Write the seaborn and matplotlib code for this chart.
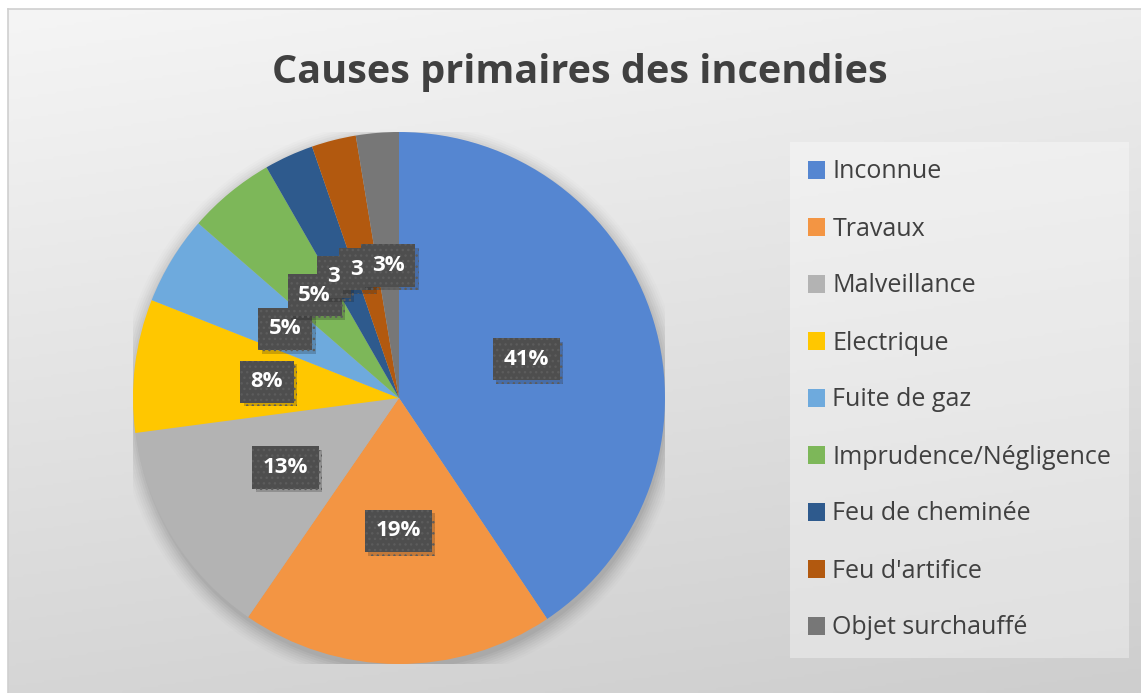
import numpy as np
import seaborn as sns
import matplotlib.pyplot as plt
import matplotlib.patheffects as pe
from matplotlib.patches import Patch, Circle

# Données (en %)
causes = ["Inconnue", "Travaux", "Malveillance", "Electrique", "Fuite de gaz",
          "Imprudence/Négligence", "Feu de cheminée", "Feu d'artifice", "Objet surchauffé"]
parts = [40.6, 19.0, 13.3, 8.1, 5.4, 5.3, 3.0, 2.7, 2.6]
# étiquettes telles qu'affichées (deux sont tronquées par le recouvrement)
etiquettes = ["41%", "19%", "13%", "8%", "5%", "5%", "3", "3", "3%"]
couleurs = ["#5586D1", "#F39543", "#B3B3B3", "#FFC700", "#6EAADD",
            "#7DB759", "#2E5A8D", "#B2590F", "#777777"]

sns.set_theme(style="white")
plt.rcParams['font.family'] = ['Open Sans', 'DejaVu Sans']
plt.rcParams['hatch.linewidth'] = 1.0

fig = plt.figure(figsize=(11.41, 6.93), dpi=100)

# Fond dégradé
bg = fig.add_axes([8/1141, 0, 1 - 8/1141, (693 - 9)/693])
grad = np.linspace(0, 1, 256)[:, None] * 0.8 + np.linspace(0, 1, 256)[None, :] * 0.2
bg.imshow(grad, cmap=sns.blend_palette(["#F5F5F5", "#CECECE"], as_cmap=True),
          aspect='auto', extent=[0, 1, 1, 0])
bg.set_xticks([])
bg.set_yticks([])
for s in ['right', 'bottom']:
    bg.spines[s].set_visible(False)
for s in ['left', 'top']:
    bg.spines[s].set_color('#CFCFCF')
    bg.spines[s].set_linewidth(1.2)

# Camembert
ax = fig.add_axes([(399 - 266)/1141, (693 - 664)/693, 532/1141, 532/693])
for r, a in zip(np.linspace(1.06, 1.0, 8), np.linspace(0.01, 0.04, 8)):
    ax.add_patch(Circle((0.005, -0.02), r, color='black', alpha=a, lw=0))
wedges, txt, autotexts = ax.pie(parts, colors=couleurs, startangle=90, counterclock=False,
                                autopct='%.0f%%', pctdistance=0.5,
                                wedgeprops=dict(linewidth=0),
                                textprops=dict(color='white', fontsize=16, fontweight='bold'))
ax.set_xlim(-1, 1)
ax.set_ylim(-1, 1)
ax.axis('off')

# étiquettes tronquées : on garde le bord gauche de la boîte complète
fig.canvas.draw()
inv = ax.transData.inverted()
for t, lab in zip(autotexts, etiquettes):
    if lab != t.get_text():
        ext = t.get_window_extent()
        x0, y0 = inv.transform((ext.x0, (ext.y0 + ext.y1) / 2))
        t.set_text(lab)
        t.set_position((x0, t.get_position()[1]))
        t.set_ha('left')

# boîtes d'abord, textes ensuite (par-dessus toutes les boîtes)
for i, t in enumerate(autotexts):
    ax.text(*t.get_position(), t.get_text(), ha=t.get_ha(), va=t.get_va(),
            color='white', fontsize=16, fontweight='bold', zorder=30)
    t.set_color('none')
    t.set_zorder(10 + i)
    t.set_bbox(dict(boxstyle='square,pad=0.48', fc='#4E4E4E', ec='#5C5C5C', lw=0, hatch='...'))
    t.get_bbox_patch().set_path_effects([pe.SimplePatchShadow(offset=(2.5, -2.5), alpha=0.22),
                                         pe.Normal()])

# Titre
fig.text(580/1141, 1 - 72/693, "Causes primaires des incendies", ha='center', va='center',
         fontsize=28.5, fontweight='bold', color='#404040')

# Légende
handles = [Patch(facecolor=c, edgecolor='none') for c in couleurs]
leg = fig.legend(handles, causes, loc='upper left', bbox_to_anchor=(790/1141, 1 - 142/693),
                 fontsize=18, frameon=True, fancybox=False, handlelength=0.7, handleheight=0.7,
                 handletextpad=0.3, labelspacing=1.28, borderpad=0.7, borderaxespad=0,
                 labelcolor='#404040')
leg.get_frame().set_facecolor('white')
leg.get_frame().set_alpha(0.35)
leg.get_frame().set_edgecolor('none')

fig.savefig("out.png", dpi=100)
